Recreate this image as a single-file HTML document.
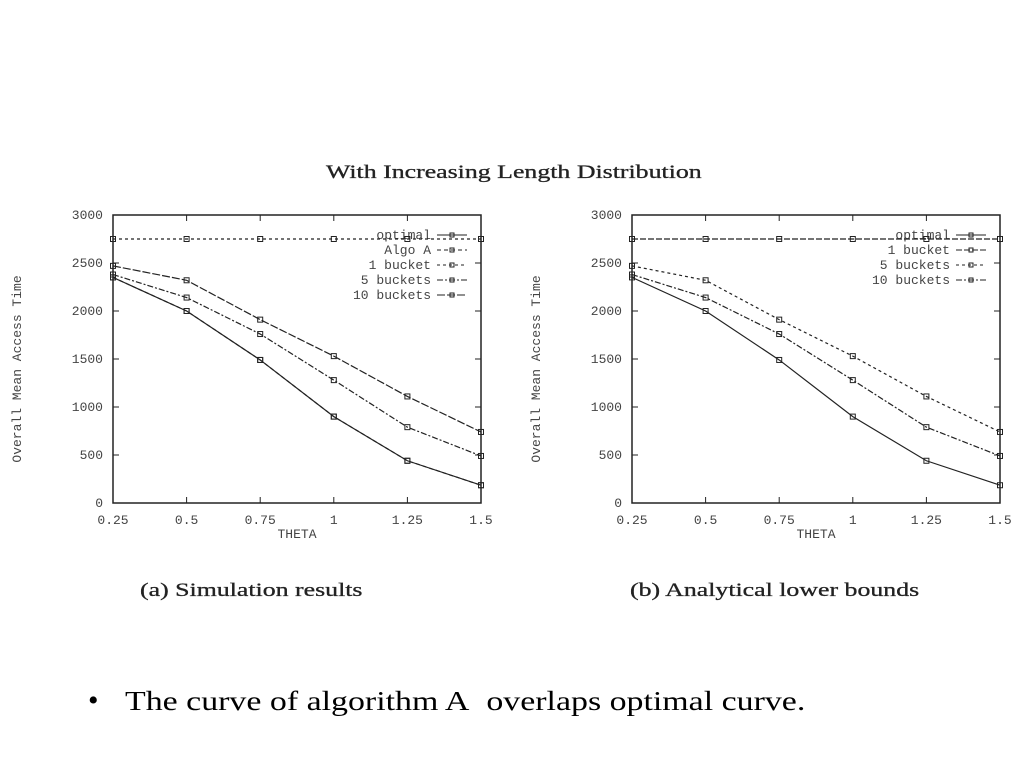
<!DOCTYPE html>
<html><head><meta charset="utf-8"><style>
body{margin:0;background:#fff;width:1024px;height:768px;overflow:hidden;position:relative;font-family:"Liberation Serif",serif}
.t{position:absolute;color:#222;transform-origin:0 0;white-space:nowrap}
</style></head><body>
<div class="t" style="left:326px;top:162px;font-size:19px;transform:scaleX(1.36);-webkit-text-stroke:0.3px #222">With Increasing Length Distribution</div>
<div class="t" style="left:140px;top:580px;font-size:19px;transform:scaleX(1.36);-webkit-text-stroke:0.3px #222">(a) Simulation results</div>
<div class="t" style="left:630px;top:580px;font-size:19px;transform:scaleX(1.36);-webkit-text-stroke:0.3px #222">(b) Analytical lower bounds</div>
<div class="t" style="left:88px;top:684px;font-size:30px;color:#000">•</div>
<div class="t" style="left:125px;top:686px;font-size:27px;color:#000;transform:scaleX(1.255)">The curve of algorithm A&nbsp; overlaps optimal curve.</div>
<svg id="s" width="1024" height="768" style="position:absolute;left:0;top:0" font-family="Liberation Mono, monospace" font-size="13" fill="#444"></svg>
<script>
const xCats=[0.25,0.5,0.75,1,1.25,1.5];
const xTickLabels=["0.25","0.5","0.75","1","1.25","1.5"];
const yTicks=[0,500,1000,1500,2000,2500,3000];
const optimal=[2350,2000,1490,900,440,185];
const algoA=[2350,2000,1490,900,440,185];
const oneBucket=[2750,2750,2750,2750,2750,2750];
const fiveA=[2380,2140,1760,1280,790,490];
const tenA=[2470,2320,1910,1530,1110,740];
const fiveB=[2470,2320,1910,1530,1110,740];
const tenB=[2380,2140,1760,1280,790,490];
const NS="http://www.w3.org/2000/svg";
const svg=document.getElementById('s');
function mk(t,a,p){const e=document.createElementNS(NS,t);for(const k in a)e.setAttribute(k,a[k]);(p||svg).appendChild(e);return e;}
function chart(x0,name,series){
 const x1=x0+368,y0=215,y1=503;
 const g=mk('g',{});
 
 
 const sx=v=>x0+(v-0.25)/1.25*(x1-x0), sy=v=>y1-v/3000*(y1-y0);
 mk('rect',{x:x0,y:y0,width:x1-x0,height:y1-y0,fill:'none',stroke:'#222','stroke-width':1.5},g);
 yTicks.forEach(v=>{const y=sy(v);mk('line',{x1:x0,x2:x0+6,y1:y,y2:y,stroke:'#222'},g);mk('line',{x1:x1,x2:x1-6,y1:y,y2:y,stroke:'#222'},g);
  const t=mk('text',{x:x0-10,y:y+4,'text-anchor':'end'},g);t.textContent=v;});
 xCats.forEach((v,i)=>{const x=sx(v);mk('line',{x1:x,x2:x,y1:y1,y2:y1-6,stroke:'#222'},g);mk('line',{x1:x,x2:x,y1:y0,y2:y0+6,stroke:'#222'},g);
  const t=mk('text',{x:x,y:y1+21,'text-anchor':'middle'},g);t.textContent=xTickLabels[i];});
 const xt=mk('text',{x:(x0+x1)/2,y:y1+35,'text-anchor':'middle'},g);xt.textContent='THETA';
 
 const yt=mk('text',{x:0,y:0,'text-anchor':'middle',transform:`translate(${x0-92},${(y0+y1)/2+10}) rotate(-90)`},g);yt.textContent='Overall Mean Access Time';
 
 series.forEach((s,k)=>{
  const pts=xCats.map((c,i)=>sx(c)+','+sy(s.d[i])).join(' ');
  const l=mk('polyline',{points:pts,fill:'none',stroke:'#222','stroke-width':1.2,'stroke-dasharray':s.dash||''},g);
  
  xCats.forEach((c,i)=>{mk('rect',{x:sx(c)-2.5,y:sy(s.d[i])-2.5,width:5,height:5,fill:s.fill||'none',stroke:'#222'},g);});
  const ly=y0+20+k*15;
  const lt=mk('text',{x:x1-50,y:ly+4,'text-anchor':'end'},g);lt.textContent=s.n;
  
  mk('line',{x1:x1-44,x2:x1-14,y1:ly,y2:ly,stroke:'#222','stroke-dasharray':s.dash||''},g);
  mk('rect',{x:x1-31,y:ly-2,width:4,height:4,fill:'none',stroke:'#222'},g);
 });
}
chart(113,'chart-simulation',[{n:'optimal',d:optimal},{n:'Algo A',d:algoA,dash:'4 3'},{n:'1 bucket',d:oneBucket,dash:'3 3'},{n:'5 buckets',d:fiveA,dash:'6 2 2 2'},{n:'10 buckets',d:tenA,dash:'8 2'}]);
chart(632,'chart-analytical',[{n:'optimal',d:optimal},{n:'1 bucket',d:oneBucket,dash:'6 2'},{n:'5 buckets',d:fiveB,dash:'3 3'},{n:'10 buckets',d:tenB,dash:'6 2 2 2'}]);
</script>
</body></html>
